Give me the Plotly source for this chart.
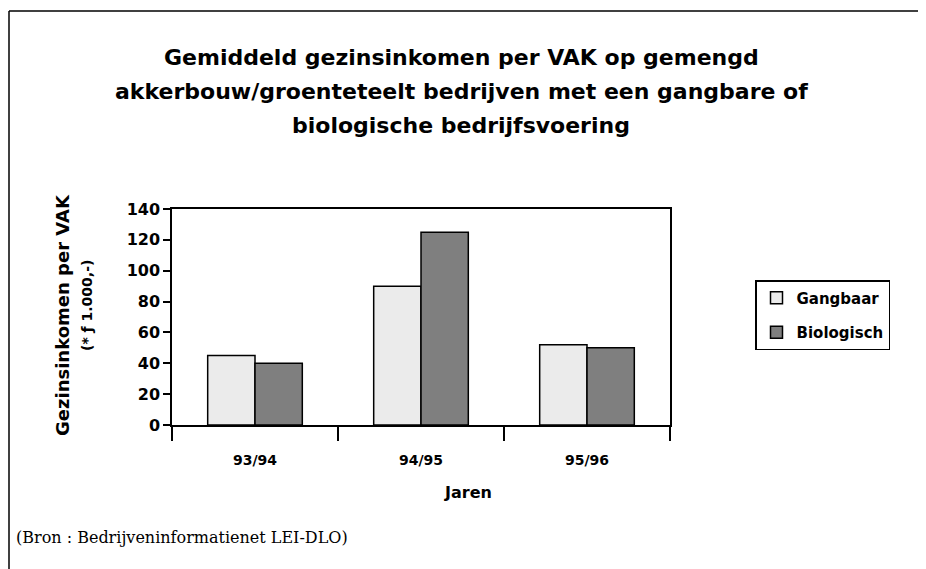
import plotly.graph_objects as go

# ---- data ----
years = ["93/94", "94/95", "95/96"]
gangbaar = [45, 90, 52]
biologisch = [40, 125, 50]
series_names = ["Gangbaar", "Biologisch"]
title_lines = [
    "Gemiddeld gezinsinkomen per VAK op gemengd",
    "akkerbouw/groenteteelt bedrijven met een gangbare of",
    "biologische bedrijfsvoering",
]
y_title_lines = ["Gezinsinkomen per VAK", "(* ƒ 1.000,-)"]
x_title = "Jaren"
source = "(Bron : Bedrijveninformatienet LEI-DLO)"

# ---- layout geometry (pixels, target screen coords) ----
OFF = 8  # page offset of the figure in the browser
W, H = 926 - OFF, 569 - OFF
L, R, T, B = 172 - OFF, 670 - OFF, 209 - OFF, 425 - OFF
PW, PH = R - L, B - T


def px(x):
    return (x - OFF - L) / PW


def py(y):
    return (B - (y - OFF)) / PH


SANS = "DejaVu Sans"

fig = go.Figure()
fig.add_trace(go.Bar(
    x=years, y=gangbaar, name=series_names[0], legendgroup="g",
    marker=dict(color="#ebebeb", line=dict(color="black", width=1.5)),
))
fig.add_trace(go.Bar(
    x=years, y=biologisch, name=series_names[1], legendgroup="b",
    marker=dict(color="#7f7f7f", line=dict(color="black", width=1.5)),
))

annotations = []
for line, yy in zip(title_lines, [58, 92, 126]):
    annotations.append(dict(
        text=line, x=px(461), y=py(yy), xref="paper", yref="paper",
        xanchor="center", yanchor="middle", showarrow=False,
        font=dict(family=SANS, size=22, color="black", weight="bold"),
    ))
annotations.append(dict(
    text=y_title_lines[0], x=px(62), y=py(315), xref="paper", yref="paper",
    xanchor="center", yanchor="middle", showarrow=False, textangle=-90,
    font=dict(family=SANS, size=18, color="black", weight="bold"),
))
annotations.append(dict(
    text=y_title_lines[1], x=px(87), y=py(306), xref="paper", yref="paper",
    xanchor="center", yanchor="middle", showarrow=False, textangle=-90,
    font=dict(family=SANS, size=14, color="black", weight="bold"),
))
annotations.append(dict(
    text=x_title, x=px(468), y=py(492), xref="paper", yref="paper",
    xanchor="center", yanchor="middle", showarrow=False,
    font=dict(family=SANS, size=16, color="black", weight="bold"),
))
annotations.append(dict(
    text=source, x=px(14), y=py(537), xref="paper", yref="paper",
    xanchor="left", yanchor="middle", showarrow=False,
    font=dict(family="DejaVu Serif", size=16, color="black"),
))

shapes = [
    # outer frame (top and left edges)
    dict(type="line", xref="paper", yref="paper",
         x0=px(9), x1=px(960), y0=py(11), y1=py(11),
         line=dict(color="black", width=1.5)),
    dict(type="line", xref="paper", yref="paper",
         x0=px(9), x1=px(9), y0=py(11), y1=py(600),
         line=dict(color="black", width=1.5)),
]

fig.update_layout(
    width=W, height=H,
    margin=dict(l=L, r=W - R, t=T, b=H - B, autoexpand=False),
    paper_bgcolor="white", plot_bgcolor="white",
    barmode="group", bargap=0.43, bargroupgap=0,
    showlegend=True,
    legend=dict(
        x=px(755), y=py(280), xanchor="left", yanchor="top",
        bordercolor="black", borderwidth=1.5, bgcolor="white",
        font=dict(family=SANS, size=15, color="black", weight="bold"),
        tracegroupgap=12, traceorder="grouped",
    ),
    annotations=annotations,
    shapes=shapes,
    font=dict(family=SANS, color="black"),
)
fig.update_xaxes(
    showline=True, linecolor="black", linewidth=1.5, mirror=True,
    ticks="outside", tickson="boundaries", ticklen=14, tickwidth=1.5,
    tickcolor="black", showgrid=False, ticklabelstandoff=21,
    tickfont=dict(family=SANS, size=14, color="black", weight="bold"),
)
fig.update_yaxes(
    range=[0, 140], dtick=20, tick0=0,
    showline=True, linecolor="black", linewidth=1.5, mirror=True,
    ticks="outside", ticklen=7, tickwidth=1.5, tickcolor="black",
    showgrid=False, zeroline=False,
    tickfont=dict(family=SANS, size=16, color="black", weight="bold"),
)

fig.write_html("out.html")
